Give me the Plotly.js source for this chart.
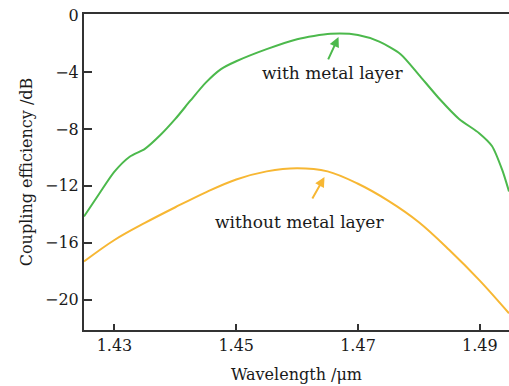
<!DOCTYPE html>
<html>
<head>
<meta charset="utf-8">
<script src="https://cdn.plot.ly/plotly-3.0.1.min.js"></script>
<style>html,body{margin:0;padding:0;background:#fff;}#chart{width:509px;height:386px;}</style>
</head>
<body>
<div id="chart"></div>
<script>
const withMetalX = [1.4250, 1.4275, 1.4300, 1.4325, 1.4350, 1.4375, 1.4400, 1.4425, 1.4450, 1.4475, 1.4500, 1.4550, 1.4600, 1.4655, 1.4700, 1.4735, 1.4770, 1.4800, 1.4834, 1.4866, 1.4899, 1.4920, 1.4937, 1.4948];
const withMetalY = [-14.15, -12.55, -11.00, -9.95, -9.40, -8.45, -7.30, -6.00, -4.75, -3.80, -3.25, -2.40, -1.70, -1.32, -1.40, -1.87, -2.75, -4.20, -5.90, -7.30, -8.30, -9.20, -10.90, -12.40];
const withoutMetalX = [1.4250, 1.4300, 1.4350, 1.4400, 1.4450, 1.4500, 1.4550, 1.4600, 1.4650, 1.4700, 1.4750, 1.4800, 1.4850, 1.4900, 1.4948];
const withoutMetalY = [-17.31, -15.80, -14.60, -13.50, -12.45, -11.55, -10.98, -10.76, -10.98, -11.85, -13.05, -14.55, -16.50, -18.65, -20.95];
const xTicks = [1.43, 1.45, 1.47, 1.49];
const xTickLabels = ['1.43', '1.45', '1.47', '1.49'];
const yTicks = [0, -4, -8, -12, -16, -20];
const yTickLabels = ['0', '\u22124', '\u22128', '\u221212', '\u221216', '\u221220'];
const labelWith = 'with metal layer';
const labelWithout = 'without metal layer';
const xTitle = 'Wavelength /\u03bcm';
const yTitle = 'Coupling efficiency /dB';

const green = '#4cb94c';
const orange = '#f7b733';
const ink = '#1a1a1a';
const font = 'DejaVu Serif, Liberation Serif, serif';

const traces = [
  {x: withMetalX, y: withMetalY, mode: 'lines', line: {color: green, width: 2, shape: 'spline', smoothing: 0.7}, hoverinfo: 'skip'},
  {x: withoutMetalX, y: withoutMetalY, mode: 'lines', line: {color: orange, width: 2, shape: 'spline', smoothing: 1}, hoverinfo: 'skip'}
];

const layout = {
  width: 509, height: 386,
  margin: {l: 84, r: 0, t: 14, b: 56},
  paper_bgcolor: '#fff', plot_bgcolor: '#fff',
  showlegend: false,
  font: {family: font, size: 16, color: ink},
  xaxis: {
    range: [1.425, 1.4948], tickvals: xTicks, ticktext: xTickLabels,
    ticks: 'inside', ticklen: 6, tickwidth: 2, tickcolor: '#333',
    showline: true, linewidth: 2, linecolor: '#333', mirror: true,
    showgrid: false, zeroline: false,
    tickfont: {family: font, size: 16, color: ink},
    title: {text: xTitle, font: {family: font, size: 16, color: ink}, standoff: 15}
  },
  yaxis: {
    range: [-22.12, 0.07], tickvals: yTicks, ticktext: yTickLabels,
    ticks: 'inside', ticklen: 8, tickwidth: 2, tickcolor: '#333',
    showline: true, linewidth: 2, linecolor: '#333',
    showgrid: false, zeroline: false,
    tickfont: {family: font, size: 16, color: ink},
    title: {text: yTitle, font: {family: font, size: 16, color: ink}, standoff: 8}
  },
  annotations: [
    {x: 1.4668, y: -1.54, xref: 'x', yref: 'y', text: '', showarrow: true, arrowhead: 2, arrowsize: 1, arrowwidth: 2, arrowcolor: green, ax: -11, ay: 24},
    {x: 1.4658, y: -4.07, xref: 'x', yref: 'y', text: labelWith, showarrow: false, font: {family: font, size: 17, color: ink}},
    {x: 1.4645, y: -11.37, xref: 'x', yref: 'y', text: '', showarrow: true, arrowhead: 2, arrowsize: 1, arrowwidth: 2, arrowcolor: orange, ax: -13, ay: 23},
    {x: 1.4604, y: -14.53, xref: 'x', yref: 'y', text: labelWithout, showarrow: false, font: {family: font, size: 17, color: ink}}
  ]
};

Plotly.newPlot('chart', traces, layout, {displayModeBar: false, staticPlot: true});
</script>
</body>
</html>
